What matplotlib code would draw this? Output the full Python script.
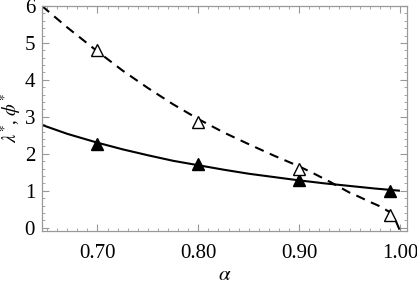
import matplotlib
matplotlib.use("Agg")
import matplotlib.pyplot as plt
from matplotlib.ticker import MultipleLocator, FixedLocator

plt.rcParams['font.family'] = ['Liberation Serif', 'DejaVu Serif']
plt.rcParams['mathtext.fontset'] = 'stix'

# solid curve (lambda*)
lam_alpha = [0.645, 0.67, 0.70, 0.725, 0.75, 0.775, 0.80, 0.825, 0.85,
             0.875, 0.90, 0.925, 0.95, 0.975, 1.00]
lam_curve = [2.78, 2.54, 2.30, 2.12, 1.96, 1.81, 1.69, 1.57, 1.46,
             1.37, 1.28, 1.20, 1.13, 1.06, 1.00]
# dashed curve (phi*)
phi_alpha = [0.645, 0.67, 0.70, 0.725, 0.75, 0.775, 0.80, 0.825, 0.85, 0.875,
             0.90, 0.915, 0.93, 0.95, 0.96, 0.97, 0.98, 0.99, 0.995, 1.00]
phi_curve = [6.00, 5.42, 4.77, 4.25, 3.78, 3.34, 2.94, 2.58, 2.26, 1.95,
             1.66, 1.46, 1.25, 0.95, 0.83, 0.70, 0.58, 0.42, 0.24, -0.08]
# markers
pt_alpha = [0.70, 0.80, 0.90, 0.99]
lam_pts = [2.26, 1.72, 1.30, 0.98]
phi_pts = [4.82, 2.86, 1.58, 0.35]

xticks = [0.70, 0.80, 0.90, 1.00]
xticklabels = ["0.70", "0.80", "0.90", "1.00"]
yticks = [0, 1, 2, 3, 4, 5, 6]

fig = plt.figure(figsize=(4.17, 2.84), dpi=100)
ax = fig.add_axes([0.1007, 0.1866, 0.8753, 0.7924])

ax.plot(lam_alpha, lam_curve, color='black', lw=1.5, solid_capstyle='butt')
ax.plot(phi_alpha, phi_curve, color='black', lw=1.5, dashes=(4.5, 3.2))
ax.plot(pt_alpha, lam_pts, linestyle='none', marker='^', ms=9,
        mfc='black', mec='black')
ax.plot(pt_alpha, phi_pts, linestyle='none', marker='^', ms=9,
        mfc='white', mec='black', mew=1.0)

ax.set_xlim(0.645, 1.007)
ax.set_ylim(-0.09, 6.0)

ax.xaxis.set_major_locator(FixedLocator(xticks))
ax.set_xticklabels(xticklabels)
ax.xaxis.set_minor_locator(MultipleLocator(0.01))
ax.yaxis.set_major_locator(FixedLocator(yticks))
ax.yaxis.set_minor_locator(MultipleLocator(0.2))

frame_col = '#999999'
for s in ax.spines.values():
    s.set_color(frame_col)
    s.set_linewidth(0.9)
ax.tick_params(which='both', direction='in', top=True, right=True,
               color=frame_col, labelsize=15, labelcolor='black')
ax.tick_params(which='major', length=5, width=0.8)
ax.tick_params(axis='x', which='major', pad=9)
ax.tick_params(axis='y', which='major', pad=5)
ax.tick_params(which='minor', length=2.5, width=0.6)

ax.set_xlabel(r'$\alpha$', fontsize=15)
ax.xaxis.set_label_coords(0.5, -0.155)
ax.set_ylabel(r'$\lambda^{*}$, $\phi^{*}$', fontsize=13.5)
ax.yaxis.set_label_coords(-0.052, 0.5)

fig.savefig('out.png', dpi=100)
